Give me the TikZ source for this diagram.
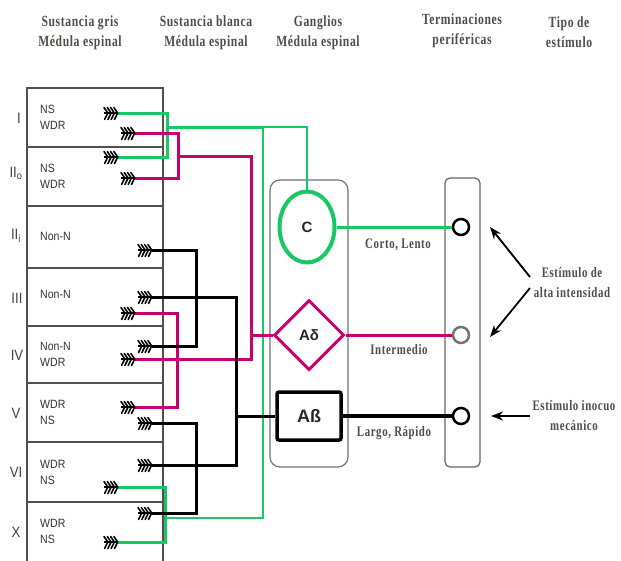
\documentclass[tikz,border=0pt]{standalone}
\usepackage{fontspec}
\setmainfont{Liberation Serif}
\newfontfamily\hdfont[FakeStretch=0.75,LetterSpace=4]{Liberation Serif}
\newfontfamily\sfcond[FakeStretch=0.88]{Liberation Sans}
\newfontfamily\sfreg{Liberation Sans}
\usetikzlibrary{shapes.geometric,arrows.meta,calc}
\definecolor{gcol}{RGB}{25,200,100}
\definecolor{mcol}{RGB}{200,0,110}
\definecolor{txtc}{RGB}{80,75,72}
\definecolor{boxc}{RGB}{80,80,80}
\tikzset{
  syn/.pic={
    \draw[line width=1.2pt] (0,0) -- (14,0);
    \foreach \i in {0,1,2,3}{
      \draw[line width=1.6pt,line cap=round] ({\i*3.3},-5.5) -- ({\i*3.3+3.8},0) -- ({\i*3.3+0.6},6.5);
    }
  },
  gw/.style={draw=gcol,line width=3pt},
  gwt/.style={draw=gcol,line width=2.6pt},
  mw/.style={draw=mcol,line width=3pt},
  bw/.style={draw=black,line width=3pt},
  hd/.style={font=\hdfont\bfseries\fontsize{15.5}{20}\selectfont, text=txtc, align=center, inner sep=0pt},
  lbl/.style={font=\hdfont\bfseries\fontsize{14.5}{20}\selectfont, text=txtc, align=center, inner sep=0pt},
  rown/.style={font=\sfcond\fontsize{15}{17}\selectfont, text=black!75, inner sep=0pt},
  cell/.style={font=\sfcond\fontsize{12}{16}\selectfont, text=black!80, align=left, anchor=west, inner sep=0pt},
  term/.style={circle, draw=black, line width=2.5pt, fill=white, minimum size=16pt, inner sep=0pt},
  stim/.style={line width=1.8pt, -{Stealth[length=12pt,width=9pt]}},
  gshape/.style={font=\sfreg\bfseries\fontsize{15}{17}\selectfont, text=black!85, fill=white, inner sep=0pt},
}
\begin{document}
\begin{tikzpicture}[x=1pt,y=-1pt]
\fill[white] (0,0) rectangle (621,560);
\useasboundingbox (0,0) rectangle (621,560);

% headers
\node[hd] (h1) at (80,33) {Sustancia gris\\Médula espinal};
\node[hd] (h2) at (206,33) {Sustancia blanca\\Médula espinal};
\node[hd] (h3) at (318,33) {Ganglios\\Médula espinal};
\node[hd] (h4) at (462,31) {Terminaciones\\periféricas};
\node[hd] (h5) at (569,32) {Tipo de\\estímulo};

% grey matter box
\draw[boxc, line width=1.3pt] (27,562) -- (27,88) -- (163,88) -- (163,562);
\foreach \y in {147,206,268,326,383,442,502} \draw[boxc,line width=1.3pt] (27,\y) -- (163,\y);

% row names
\node[rown] (rI) at (19,118) {I};
\node[rown] (rIIo) at (16,173) {II\textsubscript{o}};
\node[rown] (rIIi) at (16,236) {II\textsubscript{i}};
\node[rown] (rIII) at (17,298) {III};
\node[rown] (rIV) at (17,355) {IV};
\node[rown] (rV) at (16,413) {V};
\node[rown] (rVI) at (16,472) {VI};
\node[rown] (rX) at (16,532) {X};

% cell texts
\node[cell] (cI) at (40,117) {NS\\WDR};
\node[cell] (cIIo) at (40,176) {NS\\WDR};
\node[cell] (cIIi) at (40,236) {Non-N};
\node[cell] (cIII) at (40,294) {Non-N};
\node[cell] (cIV) at (40,354) {Non-N\\WDR};
\node[cell] (cV) at (40,412) {WDR\\NS};
\node[cell] (cVI) at (40,472) {WDR\\NS};
\node[cell] (cX) at (40,531) {WDR\\NS};

% synapse coordinates (wire start points)
\coordinate (sIa) at (118,113);
\coordinate (sIb) at (135,133);
\coordinate (sIIa) at (118,157);
\coordinate (sIIb) at (135,178);
\coordinate (sIIi) at (152,250);
\coordinate (sIIIa) at (152,297);
\coordinate (sIIIb) at (135,313);
\coordinate (sIVa) at (152,346);
\coordinate (sIVb) at (135,359);
\coordinate (sVa) at (135,407);
\coordinate (sVb) at (152,423);
\coordinate (sVIa) at (152,465);
\coordinate (sVIb) at (118,487);
\coordinate (sXa) at (152,513);
\coordinate (sXb) at (118,542);

% ganglion and terminal boxes
\draw[draw=black!55,line width=1.2pt,rounded corners=10pt] (270,180) rectangle (348,467);
\draw[draw=black!60,line width=1.2pt,rounded corners=5pt] (445,178) rectangle (480,467);

% ganglion shapes
\node[gshape, ellipse, draw=gcol, line width=4pt, minimum width=55pt, minimum height=71pt] (C) at (307,227) {C};
\node[gshape, diamond, draw=mcol, line width=3pt, minimum width=70pt, minimum height=70pt] (Ad) at (309,335) {Aδ};
\node[gshape, rectangle, draw=black, line width=3.5pt, rounded corners=2pt, minimum width=64pt, minimum height=48pt, font=\sfreg\bfseries\fontsize{18}{20}\selectfont] (Ab) at (309,416) {Aß};

% terminals
\node[term] (t1) at (461,227) {};
\node[term, draw=black!55] (t2) at (461,335) {};
\node[term] (t3) at (461,416) {};

% junction coordinates
\coordinate (g1) at (167,127);
\coordinate (g2) at (263,127);
\coordinate (g3) at (165,518);
\coordinate (m1) at (178,156);
\coordinate (m2) at (251,359);
\coordinate (m3) at (177,359);
\coordinate (b1) at (196,297);
\coordinate (b2) at (236,416);
\coordinate (b3) at (196,465);

% green wires
\draw[gw] (sIa) -| (g1) |- (sIIa);
\draw[gw] (g1) -- (g2);
\draw[gwt] (g2) -| (C.north);
\draw[gwt] (g2) |- (g3);
\draw[gw] (sVIb) -| (g3) |- (sXb);
% magenta wires
\draw[mw] (sIb) -| (m1) |- (sIIb);
\draw[mw] (m1) -| (m2) -- (sIVb);
\draw[mw] (Ad.west) -- (Ad.west -| m2);
\draw[mw] (sIIIb) -| (m3) |- (sVa);
% black wires
\draw[bw] (sIIi) -| (b1) |- (sIVa);
\draw[bw] (sIIIa) -| (b2) -- (Ab.west);
\draw[bw] (b2) |- (sVIa);
\draw[bw] (sVb) -| (b3) |- (sXa);

% right side connections
\draw[gw] (C.east) -- (t1.west);
\draw[mw] (Ad.east) -- (t2.west);
\draw[bw, line width=3.5pt] (Ab.east) -- (t3.west);

% synapse symbols
\foreach \x/\y in {104/113,121/133,104/157,121/178,138/250,138/297,121/313,138/346,121/359,121/407,138/423,138/465,104/487,138/513,104/542}
  \pic at (\x,\y) {syn};

% fibre labels
\node[lbl] (l1) at (398,245) {Corto, Lento};
\node[lbl] (l2) at (399,350) {Intermedio};
\node[lbl] (l3) at (394,433) {Largo, Rápido};

% stimulus labels and arrows
\node[lbl] (s1) at (572,283) {Estímulo de\\alta intensidad};
\node[lbl] (s2) at (574,416) {Estímulo inocuo\\mecánico};
\coordinate (a1s) at (530,277); \coordinate (a1e) at (490,227);
\coordinate (a2s) at (530,288); \coordinate (a2e) at (490,337);
\coordinate (a3s) at (530,416); \coordinate (a3e) at (491,416);
\draw[stim] (a1s) -- (a1e);
\draw[stim] (a2s) -- (a2e);
\draw[stim] (a3s) -- (a3e);
\end{tikzpicture}
\end{document}
